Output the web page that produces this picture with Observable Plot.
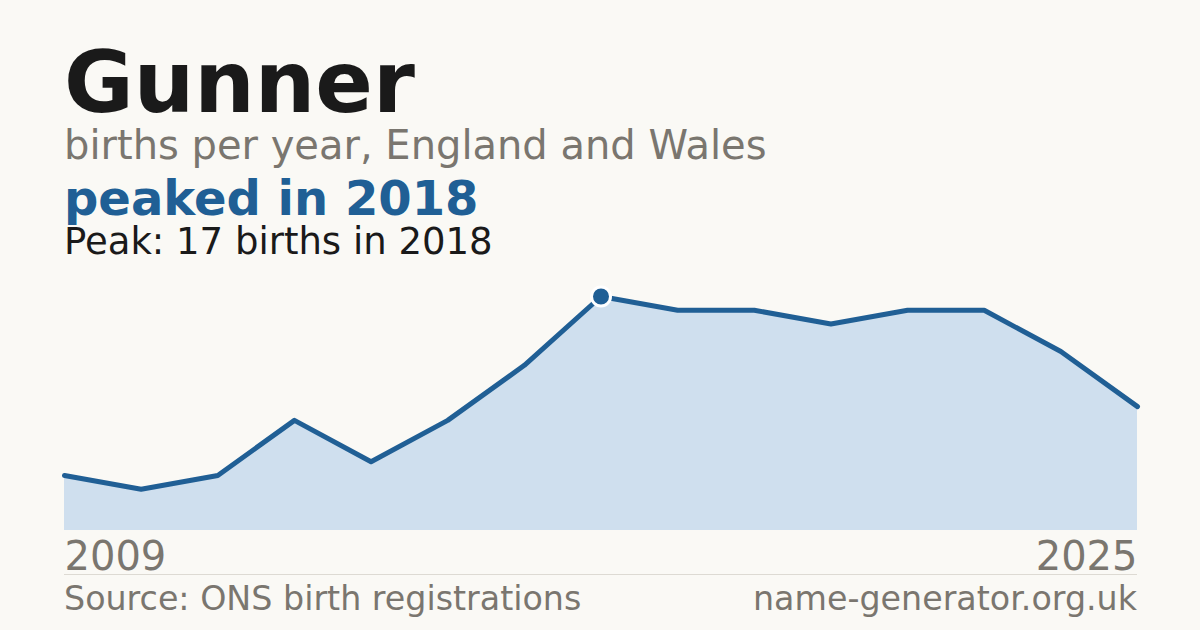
<!DOCTYPE html>
<html>
<head>
<meta charset="utf-8">
<script src="https://cdn.jsdelivr.net/npm/d3@7"></script>
<script src="https://cdn.jsdelivr.net/npm/@observablehq/plot@0.6"></script>
<style>
  html, body { margin: 0; padding: 0; }
  body { width: 1200px; height: 630px; background: #faf9f5; position: relative; overflow: hidden;
         font-family: "DejaVu Sans", sans-serif; }
  .t { position: absolute; left: 64px; line-height: 0.9; white-space: nowrap; }
  #title { top: 45px; font-size: 85px; font-weight: bold; color: #1a1a1a; }
  #sub { top: 127px; font-size: 40px; color: #7a766f; }
  #peaked { top: 177px; font-size: 48px; font-weight: bold; color: #205f95; }
  #peak { top: 224.5px; font-size: 37px; color: #1a1a1a; }
  #chart { position: absolute; left: 0; top: 270px; }
  #rule { position: absolute; left: 64px; top: 574px; width: 1073px; height: 1px; background: #dddad3; }
  .foot { position: absolute; top: 582px; font-size: 33.3px; line-height: 1; color: #7a766f; white-space: nowrap; }
  #src { left: 64px; }
  #site { right: 63px; }
</style>
</head>
<body>
<div class="t" id="title">Gunner</div>
<div class="t" id="sub">births per year, England and Wales</div>
<div class="t" id="peaked">peaked in 2018</div>
<div class="t" id="peak">Peak: 17 births in 2018</div>
<div id="chart"></div>
<div id="rule"></div>
<div class="foot" id="src">Source: ONS birth registrations</div>
<div class="foot" id="site">name-generator.org.uk</div>
<script>
const years = [2009, 2012, 2013, 2014, 2015, 2016, 2017, 2018, 2019, 2020, 2021, 2022, 2023, 2024, 2025];
const births = [4, 3, 4, 8, 5, 8, 12, 17, 16, 16, 15, 16, 16, 13, 9];
const peakYear = 2018;
const peakValue = 17;

const data = years.map((y, i) => ({year: y, births: births[i]}));
const peak = data.filter(d => d.year === peakYear);
const ends = [years[0], years[years.length - 1]];

const chart = Plot.plot({
  width: 1200,
  height: 310,
  marginLeft: 64,
  marginRight: 63,
  marginTop: 26,
  marginBottom: 50,
  style: {background: "transparent", fontFamily: "DejaVu Sans, sans-serif", overflow: "visible"},
  x: {type: "point", domain: years, padding: 0, round: false, axis: null},
  y: {domain: [0, peakValue], axis: null},
  marks: [
    Plot.areaY(data, {x: "year", y: "births", fill: "#cfdfee"}),
    Plot.lineY(data, {x: "year", y: "births", stroke: "#205f95", strokeWidth: 5}),
    Plot.dot(peak, {x: "year", y: "births", r: 9.5, fill: "#205f95", stroke: "#ffffff", strokeWidth: 3}),
    Plot.text([ends[0]], {x: d => d, y: 0, text: d => String(d), dy: 27, textAnchor: "start", fontSize: 40, fill: "#7a766f"}),
    Plot.text([ends[1]], {x: d => d, y: 0, text: d => String(d), dy: 27, textAnchor: "end", fontSize: 40, fill: "#7a766f"})
  ]
});
document.getElementById("chart").appendChild(chart);
</script>
</body>
</html>
